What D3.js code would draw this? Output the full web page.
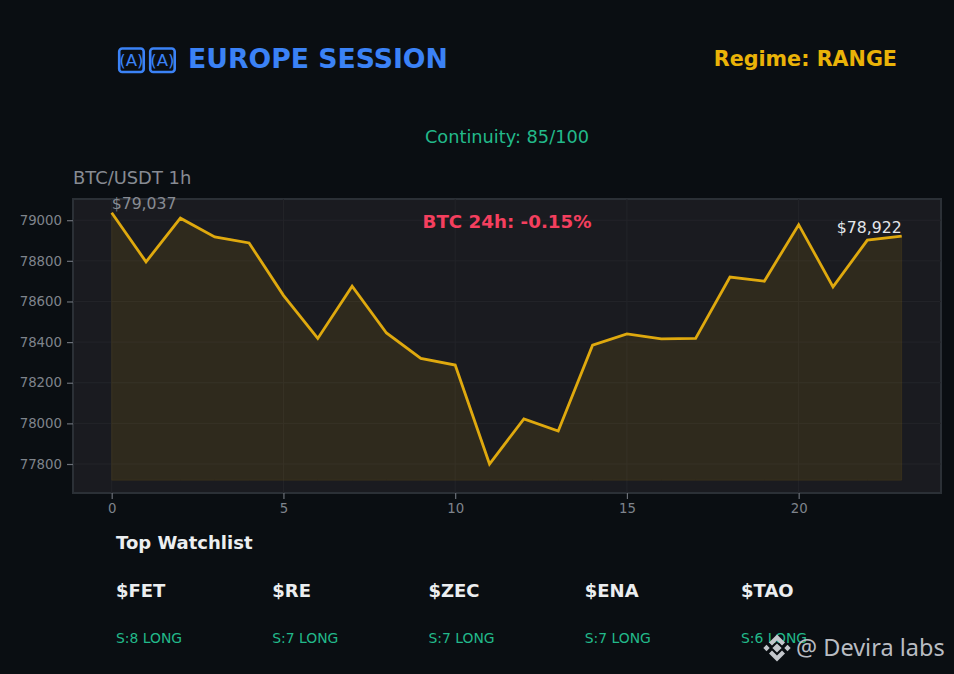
<!DOCTYPE html>
<html><head><meta charset="utf-8">
<script src="https://cdn.jsdelivr.net/npm/d3@7/dist/d3.min.js"></script>
<style>html,body{margin:0;padding:0;background:#0a0e12;overflow:hidden}svg{display:block}text{font-family:"DejaVu Sans",sans-serif}</style>
</head><body><svg id="c" width="954" height="674"></svg>
<script>
const hours=d3.range(24);
const prices=[79037,78795,79010,78918,78888,78630,78418,78675,78445,78320,78287,77800,78022,77962,78385,78440,78416,78418,78720,78700,78978,78672,78902,78922];
const yTicks=[77800,78000,78200,78400,78600,78800,79000];
const xTicks=[0,5,10,15,20];
const watch=["$FET","$RE","$ZEC","$ENA","$TAO"];
const signals=["S:8 LONG","S:7 LONG","S:7 LONG","S:7 LONG","S:6 LONG"];
const flagBoxes=[0,1];
const baseline=77720;
const svg=d3.select("#c");
const L=73,R=941,T=199,B=493;
const x=d3.scaleLinear().domain([-1.135,24.135]).range([L-0.3,R-0.3]);
const y=d3.scaleLinear().domain([77800,79000]).range([464,220.2]);
const tx=(s,a,b,o={})=>{const t=svg.append("text").attr("x",a).attr("y",b).text(s);Object.entries(o).forEach(([k,v])=>t.attr(k,v));return t;};
svg.append("rect").attr("width",954).attr("height",674).attr("fill","#0a0e12");
const fl=svg.append("g").selectAll("g").data(flagBoxes).join("g").attr("transform",d=>`translate(${119.2+d*31},48.500)`);
fl.append("rect").attr("width",24.5).attr("height",23.5).attr("rx",3).attr("fill","none").attr("stroke","#3b82f6").attr("stroke-width",2.6);
fl.append("text").attr("x",12.25).attr("y",17.5).attr("text-anchor","middle").attr("font-size",16.5).attr("fill","#3b82f6").text("(A)");
tx("EUROPE SESSION",188,68,{"font-size":26.7,"font-weight":"bold",fill:"#3b82f6"});
tx("Regime: RANGE",897,66,{"font-size":20.7,"font-weight":"bold",fill:"#eab308","text-anchor":"end"});
tx("Continuity: 85/100",507,143,{"font-size":17.75,fill:"#22b98a","text-anchor":"middle"});
tx("BTC/USDT 1h",73,183.500,{"font-size":17.9,fill:"#878b93"});
svg.append("rect").attr("x",L).attr("y",T).attr("width",R-L).attr("height",B-T).attr("fill","#1a1b20").attr("stroke","#2b3036").attr("stroke-width",2);
const g=svg.append("g");
g.selectAll(".gy").data(yTicks).join("line").attr("x1",L).attr("x2",R).attr("y1",d=>y(d)).attr("y2",d=>y(d)).attr("stroke","#232429").attr("stroke-width",1);
g.selectAll(".gx").data(xTicks).join("line").attr("y1",T).attr("y2",B).attr("x1",d=>x(d)).attr("x2",d=>x(d)).attr("stroke","#232429").attr("stroke-width",1);
const area=d3.area().x((d,i)=>x(hours[i])).y0(y(baseline)).y1(d=>y(d));
svg.append("path").datum(prices).attr("d",area).attr("fill","#eab308").attr("fill-opacity",0.1).attr("stroke","#eab308").attr("stroke-opacity",0.08);
const line=d3.line().x((d,i)=>x(hours[i])).y(d=>y(d));
svg.append("path").datum(prices).attr("d",line).attr("fill","none").attr("stroke","#dfa90e").attr("stroke-width",2.8);
const ax=svg.append("g").attr("transform",`translate(0,${B})`).call(d3.axisBottom(x).tickValues(xTicks).tickSize(6).tickPadding(5));
const ay=svg.append("g").attr("transform",`translate(${L},0)`).call(d3.axisLeft(y).tickValues(yTicks).tickSize(6).tickPadding(5).tickFormat(d3.format("d")));
[ax,ay].forEach(a=>{a.select(".domain").remove();a.selectAll("line").attr("stroke","#6b7078").attr("stroke-width",1.2);a.selectAll("text").attr("fill","#7f848c").attr("font-size",13.3).attr("font-family","DejaVu Sans");});
tx("$79,037",x(0),209,{"font-size":15.7,fill:"#878b93"});
tx("$78,922",x(23),232.500,{"font-size":15.7,fill:"#e4e6ea","text-anchor":"end"});
tx("BTC 24h: -0.15%",507,228,{"font-size":18.25,"font-weight":"bold",fill:"#f43f5e","text-anchor":"middle"});
tx("Top Watchlist",116,548.500,{"font-size":18,"font-weight":"bold",fill:"#eceef0"});
const colX=d3.scalePoint().domain(watch).range([116,741]);
svg.selectAll(".w").data(watch).join("text").attr("x",d=>colX(d)).attr("y",596.500).attr("font-size",18).attr("font-weight","bold").attr("fill","#eceef0").text(d=>d);
svg.selectAll(".s").data(signals).join("text").attr("x",(d,i)=>colX(watch[i])).attr("y",643).attr("font-size",13.9).attr("fill","#22b98a").text(d=>d);
// watermark
const wm=svg.append("g").attr("fill","#c4c7cc");
const dia=(cx,cy,r)=>wm.append("path").attr("d",`M${cx},${cy-r}L${cx+r},${cy}L${cx},${cy+r}L${cx-r},${cy}Z`);
dia(777,648,4.6);dia(766.500,648,3.2);dia(787.500,648,3.2);
wm.append("path").attr("d","M777,634.500L785,642.500L782,645.500L777,640.500L772,645.500L769,642.500Z");
wm.append("path").attr("d","M777,661.500L785,653.500L782,650.500L777,655.500L772,650.500L769,653.500Z");
tx("@ Devira labs",796,656,{"font-size":23.5,fill:"#b9bcc2",style:"font-family:'Noto Sans'"});
</script></body></html>
